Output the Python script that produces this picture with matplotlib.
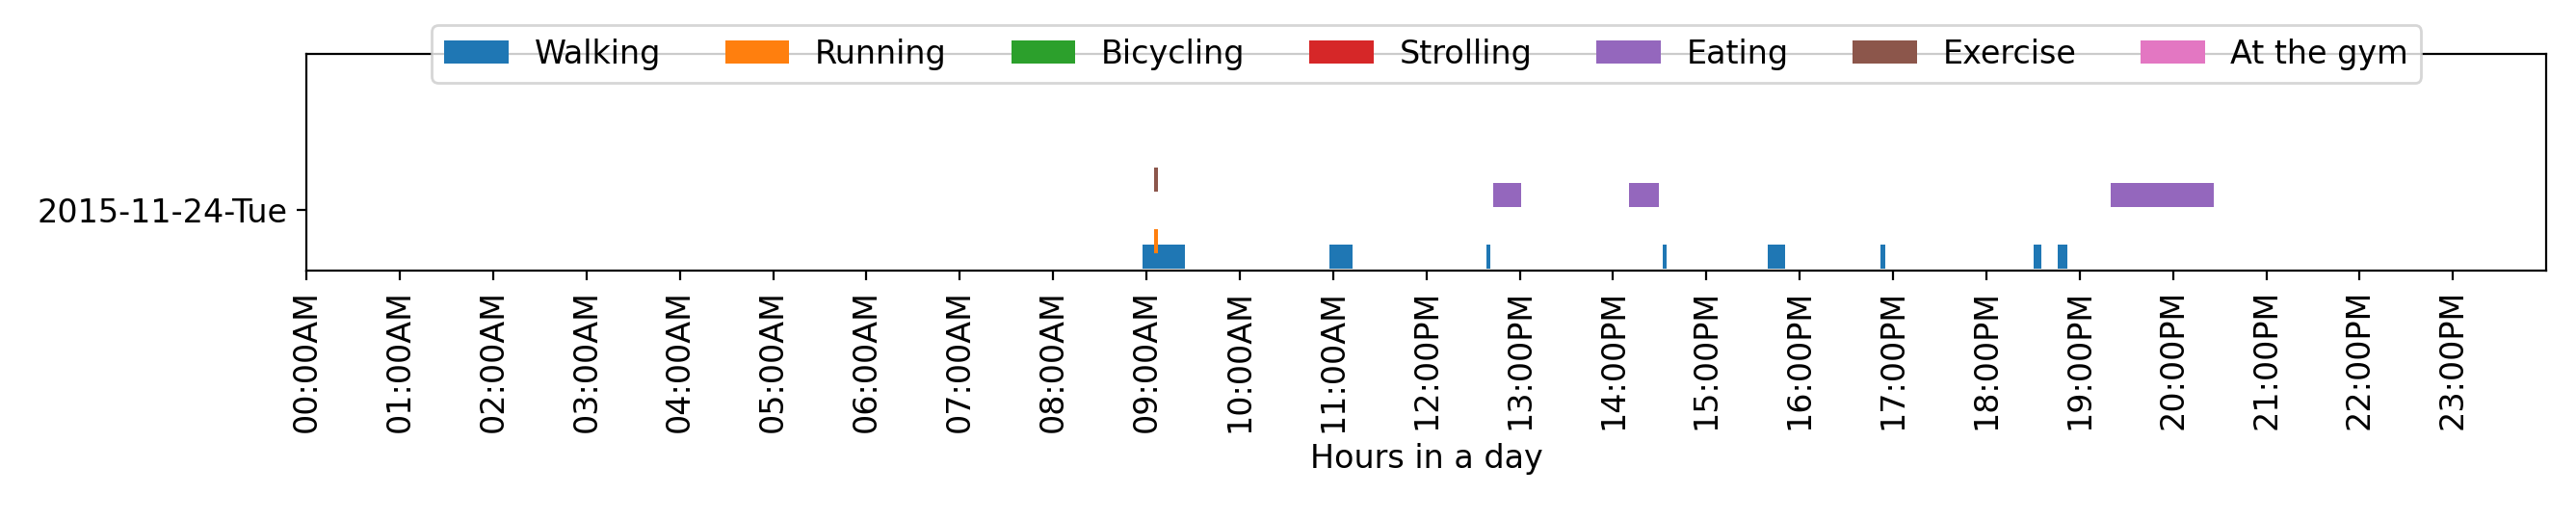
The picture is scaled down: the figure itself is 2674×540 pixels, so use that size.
import matplotlib
matplotlib.use('Agg')
from matplotlib import pyplot as plt

plt.rcParams['font.size'] = 12

# activity intervals in hours: (start, end)
activities = ['Walking', 'Running', 'Bicycling', 'Strolling', 'Eating', 'Exercise', 'At the gym']
colors = ['tab:blue', 'tab:orange', 'tab:green', 'tab:red', 'tab:purple', 'tab:brown', 'tab:pink']
walking = [(8.96, 9.41), (10.96, 11.21), (12.64, 12.68), (14.53, 14.57), (15.66, 15.84),
           (16.86, 16.92), (18.51, 18.59), (18.76, 18.87)]
running = [(9.08, 9.12)]
eating = [(12.71, 13.01), (14.17, 14.49), (19.33, 20.44)]
exercise = [(9.08, 9.12)]
intervals = [walking, running, [], [], eating, exercise, []]
# vertical band (bottom, height) for each activity
bands = [(2, 25), (18, 25), (34, 25), (50, 25), (67, 25), (83, 25), (99, 25)]

day_label = '2015-11-24-Tue'
hour_labels = ['%02d:00%s' % (h, 'AM' if h < 12 else 'PM') for h in range(24)]

fig, ax = plt.subplots(figsize=(13.37, 2.7), dpi=200)
fig.subplots_adjust(left=0.119, right=0.9885, top=0.896, bottom=0.479)

for name, col, ivs, band in zip(activities, colors, intervals, bands):
    ax.broken_barh([(s, e - s) for s, e in ivs], band, facecolors=col, label=name)

ax.set_xlim(0, 24)
ax.set_ylim(0, 226)
ax.set_yticks([64])
ax.set_yticklabels([day_label])
ax.set_xticks(range(24))
ax.set_xticklabels(hour_labels, rotation=90)
ax.set_xlabel('Hours in a day')
ax.legend(loc='center', bbox_to_anchor=(0.5, 1.0), ncol=7)

fig.savefig('out.png')
